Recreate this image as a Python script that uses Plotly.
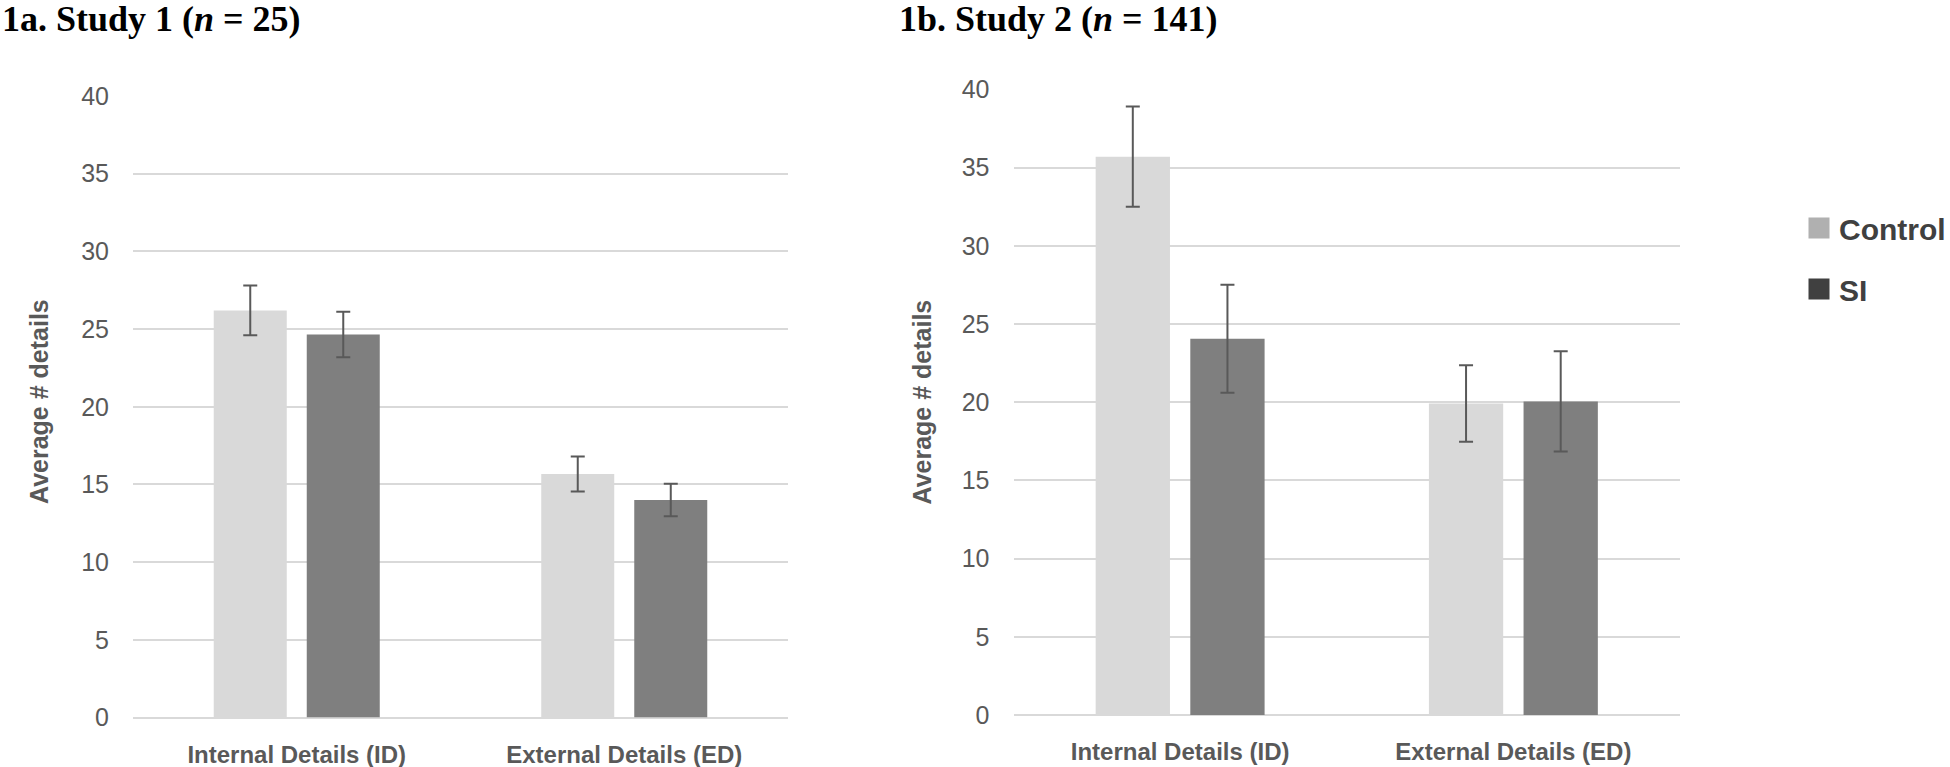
import plotly.graph_objects as go

W, H = 1950, 767

categories = ["Internal Details (ID)", "External Details (ED)"]
groups = ["Control", "SI"]

# Study 1 (n = 25)
s1_control = [26.2, 15.67]
s1_control_err = [1.6, 1.13]
s1_si = [24.65, 14.0]
s1_si_err = [1.47, 1.04]

# Study 2 (n = 141)
s2_control = [35.7, 19.92]
s2_control_err = [3.21, 2.45]
s2_si = [24.06, 20.05]
s2_si_err = [3.45, 3.2]

y_ticks = [0, 5, 10, 15, 20, 25, 30, 35, 40]
titles = ["1a. Study 1 (<i>n</i> = 25)", "1b. Study 2 (<i>n</i> = 141)"]
y_title = "Average # details"

bar_colors = {"Control": "#d9d9d9", "SI": "#7f7f7f"}
legend_colors = {"Control": "#b0b0b0", "SI": "#404040"}
err_color = "#595959"

def px_x(p):
    return p / W

def px_y(p):
    return 1 - p / H

fig = go.Figure()

panels = [
    ("x", "y", {"Control": (s1_control, s1_control_err), "SI": (s1_si, s1_si_err)}),
    ("x2", "y2", {"Control": (s2_control, s2_control_err), "SI": (s2_si, s2_si_err)}),
]

for xa, ya, data in panels:
    for g in groups:
        vals, errs = data[g]
        fig.add_trace(go.Bar(
            x=categories, y=vals, name=g, xaxis=xa, yaxis=ya,
            marker=dict(color=bar_colors[g], line=dict(width=0)),
            error_y=dict(type="data", array=errs, visible=True,
                         color=err_color, thickness=2, width=7),
            showlegend=False,
        ))

# legend entries
legend_y = {"Control": px_y(228), "SI": px_y(289)}
for i, g in enumerate(groups):
    fig.add_trace(go.Scatter(
        x=[None], y=[None], mode="markers", name=g,
        marker=dict(symbol="square", size=16, color=legend_colors[g],
                    line=dict(width=5, color=legend_colors[g])),
        legend="legend" if i == 0 else "legend2",
        showlegend=True,
    ))

tick_font = dict(family="Liberation Sans, Arial, sans-serif", size=25, color="#595959")
xlab_font = dict(family="Liberation Sans, Arial, sans-serif", size=24, color="#595959", weight="bold")

def yaxis(domain, anchor):
    return dict(domain=domain, anchor=anchor, range=[0, 40], tickvals=y_ticks,
                showgrid=True, gridcolor="#d9d9d9", gridwidth=2,
                zeroline=True, zerolinecolor="#d9d9d9", zerolinewidth=2,
                showline=False, ticks="", tickfont=tick_font, ticklabelstandoff=23,
                automargin=False, fixedrange=True)

def xaxis(domain, anchor):
    return dict(domain=domain, anchor=anchor, showgrid=False, showline=False,
                zeroline=False, ticks="", tickfont=xlab_font, ticklabelstandoff=20,
                type="category", automargin=False, fixedrange=True)

legend_common = dict(font=dict(family="Liberation Sans, Arial, sans-serif", size=30,
                               color="#404040", weight="bold"),
                     bgcolor="rgba(0,0,0,0)", xanchor="left", yanchor="middle",
                     itemclick=False, itemdoubleclick=False)

fig.update_layout(
    template="none",
    width=W, height=H,
    margin=dict(l=0, r=0, t=0, b=0, autoexpand=False),
    paper_bgcolor="white", plot_bgcolor="white",
    barmode="group", bargap=0.432, bargroupgap=0.215,
    xaxis=xaxis([px_x(133), px_x(788)], "y"),
    yaxis=yaxis([px_y(717.5), px_y(96)], "x"),
    xaxis2=xaxis([px_x(1013.5), px_x(1680)], "y2"),
    yaxis2=yaxis([px_y(715), px_y(89.4)], "x2"),
    legend=dict(x=px_x(1799), y=legend_y["Control"], **legend_common),
    legend2=dict(x=px_x(1799), y=legend_y["SI"], **legend_common),
)

title_font = dict(family="Liberation Serif, Times New Roman, serif", size=36, color="black", weight="bold")
for t, xpos in zip(titles, [0, 897]):
    fig.add_annotation(text=t, xref="paper", yref="paper", x=px_x(xpos), y=px_y(19),
                       xanchor="left", yanchor="middle", showarrow=False, font=title_font)

ytitle_font = dict(family="Liberation Sans, Arial, sans-serif", size=25, color="#595959", weight="bold")
for xpos in [39, 921.5]:
    fig.add_annotation(text=y_title, xref="paper", yref="paper", x=px_x(xpos), y=px_y(402),
                       xanchor="center", yanchor="middle", textangle=-90, showarrow=False,
                       font=ytitle_font)

fig.write_html("out.html", config={"displayModeBar": False},
               post_script="document.body.style.margin='0';document.body.style.overflow='hidden';")
